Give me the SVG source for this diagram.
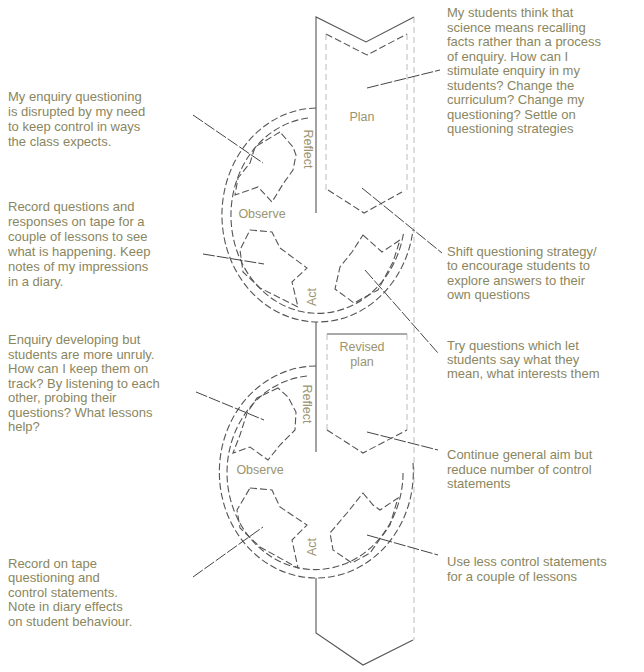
<svg xmlns="http://www.w3.org/2000/svg" width="644" height="672" viewBox="0 0 644 672">
<style>
.bg{fill:#fff}
.t{font-family:"Liberation Sans",Arial,sans-serif;font-size:13px;fill:#8a8660}
.lb{font-family:"Liberation Sans",Arial,sans-serif;font-size:12.5px;fill:#9a9470}
.edge{fill:none;stroke:#555;stroke-width:1.1}
.d{fill:none;stroke:#555;stroke-width:1.1;stroke-dasharray:7 3}
.f{fill:none;stroke:#aaa;stroke-width:0.8;stroke-dasharray:6 4}
.c{fill:none;stroke:#444;stroke-width:1;stroke-dasharray:12 2}
</style>
<rect class="bg" width="644" height="672"/>

<g id="band-top">
<polyline class="edge" points="316,213 316,17 366,42 414,17"/>
<polyline class="d" points="326,34 367,55 407,34"/>
<line class="f" x1="326" y1="34" x2="326" y2="190"/>
<line class="f" x1="407" y1="34" x2="407" y2="190"/>
<line class="f" x1="414" y1="17" x2="414" y2="640"/>
<polyline class="d" points="328,190 364,213 402,192"/>
<text class="lb" x="362" y="121" text-anchor="middle">Plan</text>
</g>

<g id="cycle-top">
<path class="d" d="M316,108 A96 107 0 1 0 413,230"/>
<path class="d" d="M308,118 A87 98 0 1 0 403.7,232"/>
<polygon class="d" points="280,132 255,147 250,163 238,178 235,195 258,187 272,202 283,184 293,170 296,155 293,147"/>
<polygon class="d" points="250,230 272,232 280,248 307,268 292,282 298,307 260,288 243,272 240,250"/>
<polygon class="d" points="363,235 382,252 400,240 393,262 378,290 354,303 335,289 340,267 352,252"/>
<text class="lb" transform="translate(304,149) rotate(90)" text-anchor="middle">Reflect</text>
<text class="lb" x="262" y="218" text-anchor="middle">Observe</text>
<text class="lb" transform="translate(316,297) rotate(-90)" text-anchor="middle">Act</text>
</g>

<g id="band-lower">
<line class="edge" x1="316" y1="322" x2="316" y2="452"/>
<line class="edge" x1="327" y1="334" x2="407" y2="334"/>
<line class="f" x1="327" y1="334" x2="327" y2="430"/>
<line class="f" x1="407" y1="334" x2="407" y2="430"/>
<polyline class="d" points="327,430 363,453 407,430"/>
<text class="lb" x="362" y="351" text-anchor="middle">Revised</text>
<text class="lb" x="362" y="366" text-anchor="middle">plan</text>
</g>

<g id="cycle-lower">
<path class="d" d="M316,366 A97 106 0 1 0 413,463"/>
<path class="d" d="M307,376 A88 97 0 1 0 403,470"/>
<polygon class="d" points="278,388 257,398 247,413 240,435 233,453 250,447 268,460 280,445 295,430 296,412 288,397"/>
<polygon class="d" points="250,488 272,490 280,507 307,525 292,540 298,568 260,547 240,528 237,510"/>
<polygon class="d" points="363,493 373,505 380,510 398,498 390,525 370,553 352,563 333,550 330,533 347,513"/>
<text class="lb" transform="translate(303,404) rotate(90)" text-anchor="middle">Reflect</text>
<text class="lb" x="260" y="474" text-anchor="middle">Observe</text>
<text class="lb" transform="translate(316,547) rotate(-90)" text-anchor="middle">Act</text>
</g>

<g id="band-bottom">
<polyline class="edge" points="316,578 316,633 363,665 413,640"/>
</g>

<g id="connectors">
<line class="c" x1="193" y1="115" x2="263" y2="163"/>
<line class="c" x1="203" y1="254" x2="264" y2="264"/>
<line class="c" x1="367" y1="88" x2="440" y2="70"/>
<line class="c" x1="362" y1="188" x2="442" y2="253"/>
<line class="c" x1="365" y1="270" x2="438" y2="353"/>
<line class="c" x1="196" y1="392" x2="264" y2="420"/>
<line class="c" x1="367" y1="432" x2="438" y2="450"/>
<line class="c" x1="367" y1="535" x2="438" y2="555"/>
<line class="c" x1="193" y1="577" x2="263" y2="527"/>
</g>

<g id="note-l1" class="t">
<text x="8" y="101">My enquiry questioning</text>
<text x="8" y="116">is disrupted by my need</text>
<text x="8" y="131">to keep control in ways</text>
<text x="8" y="146">the class expects.</text>
</g>
<g id="note-l2" class="t">
<text x="8" y="211">Record questions and</text>
<text x="8" y="226">responses on tape for a</text>
<text x="8" y="241">couple of lessons to see</text>
<text x="8" y="256">what is happening. Keep</text>
<text x="8" y="271">notes of my impressions</text>
<text x="8" y="286">in a diary.</text>
</g>
<g id="note-l3" class="t">
<text x="8" y="344">Enquiry developing but</text>
<text x="8" y="358.5">students are more unruly.</text>
<text x="8" y="373">How can I keep them on</text>
<text x="8" y="387.5">track? By listening to each</text>
<text x="8" y="402">other, probing their</text>
<text x="8" y="416.5">questions? What lessons</text>
<text x="8" y="431">help?</text>
</g>
<g id="note-l4" class="t">
<text x="8" y="568">Record on tape</text>
<text x="8" y="582">questioning and</text>
<text x="8" y="597">control statements.</text>
<text x="8" y="611">Note in diary effects</text>
<text x="8" y="626">on student behaviour.</text>
</g>
<g id="note-r1" class="t">
<text x="447" y="17">My students think that</text>
<text x="447" y="31.5">science means recalling</text>
<text x="447" y="46">facts rather than a process</text>
<text x="447" y="60.5">of enquiry. How can I</text>
<text x="447" y="75">stimulate enquiry in my</text>
<text x="447" y="89.5">students? Change the</text>
<text x="447" y="104">curriculum? Change my</text>
<text x="447" y="118.5">questioning? Settle on</text>
<text x="447" y="133">questioning strategies</text>
</g>
<g id="note-r2" class="t">
<text x="447" y="256">Shift questioning strategy/</text>
<text x="447" y="270">to encourage students to</text>
<text x="447" y="285">explore answers to their</text>
<text x="447" y="299">own questions</text>
</g>
<g id="note-r3" class="t">
<text x="447" y="350">Try questions which let</text>
<text x="447" y="364">students say what they</text>
<text x="447" y="378">mean, what interests them</text>
</g>
<g id="note-r4" class="t">
<text x="447" y="459">Continue general aim but</text>
<text x="447" y="474">reduce number of control</text>
<text x="447" y="488">statements</text>
</g>
<g id="note-r5" class="t">
<text x="447" y="566">Use less control statements</text>
<text x="447" y="581">for a couple of lessons</text>
</g>
</svg>
